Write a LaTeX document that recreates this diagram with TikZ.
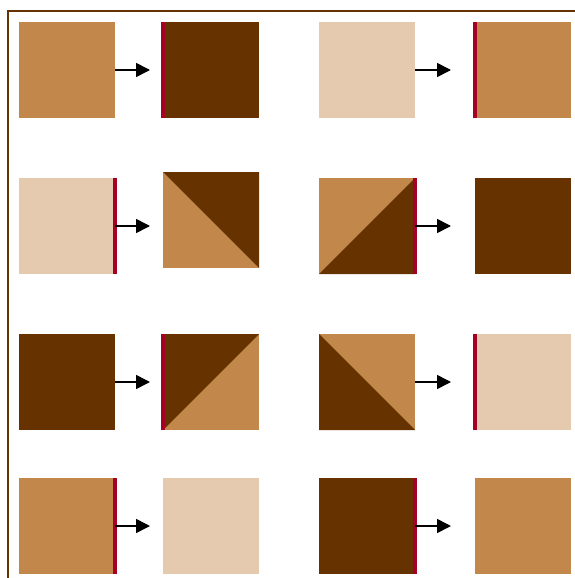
\documentclass[tikz,border=0pt]{standalone}
\usetikzlibrary{arrows.meta}
\definecolor{lightbrown}{RGB}{194,135,74}
\definecolor{darkbrown}{RGB}{102,51,0}
\definecolor{palebrown}{RGB}{229,202,176}
\definecolor{barred}{RGB}{165,0,38}
\begin{document}
\begin{tikzpicture}[x=1pt,y=-1pt,
    tile/.style={minimum size=96pt,inner sep=0pt,outer sep=0pt},
    bar/.style={barred,line width=4.5pt},
    arr/.style={-{Triangle[length=14pt,width=14pt]},line width=1.6pt,shorten >=13pt},
    farr/.style={arr,shorten >=24pt}]
    \useasboundingbox (0,0) rectangle (574,578);
    \draw[darkbrown,line width=2pt] (8,11) rectangle (600,600);
    \begin{scope}[every node/.style={tile}]
        \node[fill=lightbrown] (a1) at (67,70) {};
        \node[fill=darkbrown] (b1) at (211,70) {};
        \node[fill=palebrown] (c1) at (367,70) {};
        \node[fill=lightbrown] (d1) at (523,70) {};
        \node[fill=palebrown] (a2) at (67,226) {};
        \node[fill=lightbrown] (b2) at (211,220) {};
        \node[fill=lightbrown] (c2) at (367,226) {};
        \node[fill=darkbrown] (d2) at (523,226) {};
        \node[fill=darkbrown] (a3) at (67,382) {};
        \node[fill=lightbrown] (b3) at (211,382) {};
        \node[fill=lightbrown] (c3) at (367,382) {};
        \node[fill=palebrown] (d3) at (523,382) {};
        \node[fill=lightbrown] (a4) at (67,526) {};
        \node[fill=palebrown] (b4) at (211,526) {};
        \node[fill=darkbrown] (c4) at (367,526) {};
        \node[fill=lightbrown] (d4) at (523,526) {};
    \end{scope}
    % half tiles
    \fill[darkbrown] (b2.north west) -- (b2.north east) -- (b2.south east) -- cycle;
    \fill[darkbrown] (c2.south west) -- (c2.north east) -- (c2.south east) -- cycle;
    \fill[darkbrown] (b3.north west) -- (b3.north east) -- (b3.south west) -- cycle;
    \fill[darkbrown] (c3.north west) -- (c3.south east) -- (c3.south west) -- cycle;
    % red edges
    \draw[bar] (b1.north west) -- (b1.south west);
    \draw[bar] (d1.north west) -- (d1.south west);
    \draw[bar] (a2.north east) -- (a2.south east);
    \draw[bar] (c2.north east) -- (c2.south east);
    \draw[bar] (b3.north west) -- (b3.south west);
    \draw[bar] (d3.north west) -- (d3.south west);
    \draw[bar] (a4.north east) -- (a4.south east);
    \draw[bar] (c4.north east) -- (c4.south east);
    % arrows
    \draw[arr] (a1) -- (b1);
    \draw[farr] (c1) -- (d1);
    \draw[arr] (a2) -- (a2 -| b2.west);
    \draw[farr] (c2) -- (d2);
    \draw[arr] (a3) -- (b3);
    \draw[farr] (c3) -- (d3);
    \draw[arr] (a4) -- (b4);
    \draw[farr] (c4) -- (d4);
\end{tikzpicture}
\end{document}
